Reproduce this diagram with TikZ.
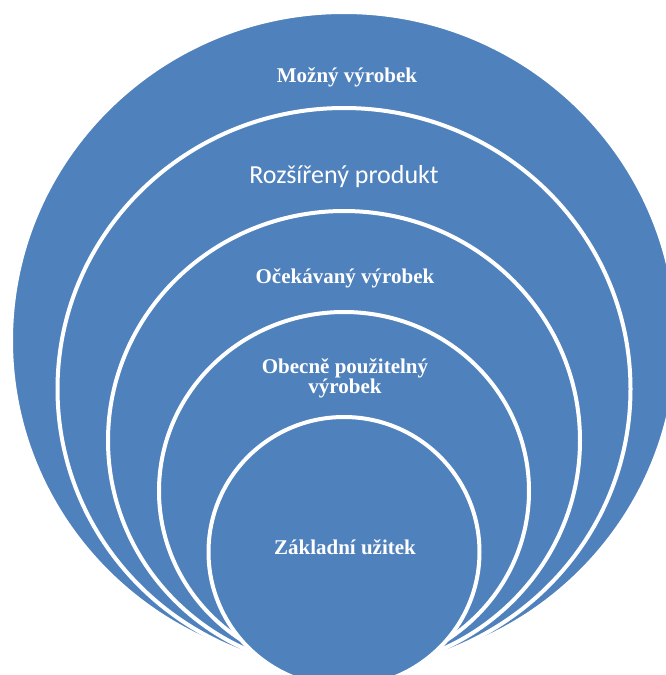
\documentclass[tikz,border=0pt]{standalone}
\usepackage{fontspec}
\setmainfont{Liberation Serif}
\newfontfamily\carlito{Carlito}
\definecolor{ringblue}{RGB}{79,129,189}
\begin{document}
\begin{tikzpicture}[x=1pt,y=-1pt,
  ring/.style={fill=ringblue,draw=white,line width=4pt},
  lab/.style={text=white,font=\bfseries\fontsize{21}{20}\selectfont,inner sep=0pt,anchor=base,align=center}]
\useasboundingbox (0,0) rectangle (666,675);
\clip (0,0) rectangle (666,675);
\path[ring] (344,340.5) ellipse [x radius=333, y radius=328.5];
\path[ring] (344,389) ellipse [x radius=286.5, y radius=281];
\path[ring] (344,440.5) ellipse [x radius=236, y radius=229.5];
\path[ring] (344,491) ellipse [x radius=185, y radius=179];
\path[ring] (344,552) ellipse [x radius=135.5, y radius=135];
\node[lab] (t1) at (347,82) {Možný výrobek};
\node[lab,font=\carlito\fontsize{26}{30}\selectfont] (t2) at (344,183) {Rozšířený produkt};
\node[lab] (t3) at (345,283) {Očekávaný výrobek};
\node[lab] (t4) at (345,393) {Obecně použitelný\\výrobek};
\node[lab] (t5) at (345,554) {Základní užitek};
\end{tikzpicture}
\end{document}
